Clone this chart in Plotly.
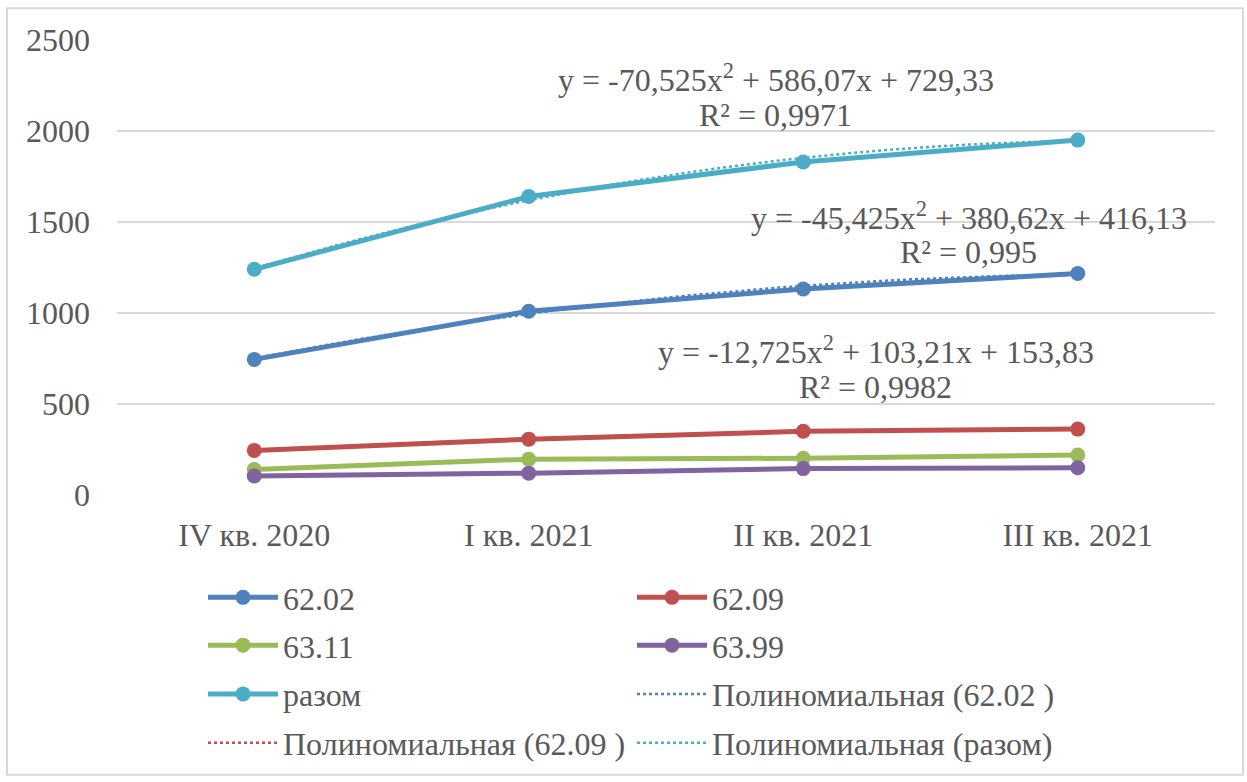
import numpy as np
import plotly.graph_objects as go

categories = ["IV кв. 2020", "I кв. 2021", "II кв. 2021", "III кв. 2021"]
s_6202 = [745, 1010, 1132, 1217]
s_6209 = [245, 307, 350, 362]
s_6311 = [140, 197, 202, 220]
s_6399 = [105, 120, 145, 150]
s_razom = [1240, 1640, 1830, 1950]

# trendline coefficients (a, b, c) of y = a x^2 + b x + c, as printed on the chart
coef_6202 = [-45.425, 380.62, 416.13]
coef_6209 = [-12.725, 103.21, 153.83]
coef_razom = [-70.525, 586.07, 729.33]

eq_6202 = ["y = -45,425x<sup>2</sup> + 380,62x + 416,13", "R² = 0,995"]
eq_6209 = ["y = -12,725x<sup>2</sup> + 103,21x + 153,83", "R² = 0,9982"]
eq_razom = ["y = -70,525x<sup>2</sup> + 586,07x + 729,33", "R² = 0,9971"]

C_6202 = "#4F81BD"
C_6209 = "#C0504D"
C_6311 = "#9BBB59"
C_6399 = "#8064A2"
C_RAZOM = "#4BACC6"
FONT = "'Liberation Serif', 'Times New Roman', 'DejaVu Serif', serif"
TXT = "#595959"
FS = 32

xi = np.arange(len(categories))
xpos = xi + 1

fig = go.Figure()

def main(name, vals, color, leg, rank):
    fig.add_trace(go.Scatter(
        x=xi, y=vals, name=name, mode="lines+markers",
        line=dict(color=color, width=5),
        marker=dict(color=color, size=15),
        legend=leg, legendrank=rank,
    ))

def trend(name, coef, color, leg, rank):
    a, b, c = coef
    xs = np.linspace(xpos[0], xpos[-1], 31)
    ys = a * xs**2 + b * xs + c
    fig.add_trace(go.Scatter(
        x=xs - 1, y=ys, name=name, mode="lines",
        line=dict(color=color, width=2.5, dash="dot"),
        legend=leg, legendrank=rank,
    ))

trend("Полиномиальная (62.02 )", coef_6202, C_6202, "legend3", 2)
trend("Полиномиальная (62.09 )", coef_6209, C_6209, "legend4", 1)
trend("Полиномиальная (разом)", coef_razom, C_RAZOM, "legend4", 2)
main("62.02", s_6202, C_6202, "legend", 1)
main("62.09", s_6209, C_6209, "legend", 2)
main("63.11", s_6311, C_6311, "legend2", 1)
main("63.99", s_6399, C_6399, "legend2", 2)
main("разом", s_razom, C_RAZOM, "legend3", 1)

def eq_annot(lines, x, ys):
    for txt, y in zip(lines, ys):
        fig.add_annotation(
            x=x, y=y, xref="x", yref="y",
            text=txt, showarrow=False,
            font=dict(family=FONT, size=FS, color=TXT),
            align="center", xanchor="center", yanchor="middle",
        )

eq_annot(eq_razom, 1.90, [2290, 2090])
eq_annot(eq_6202, 2.603, [1535, 1335])
eq_annot(eq_6209, 2.264, [797, 596])

fig.add_shape(type="rect", xref="paper", yref="paper",
              x0=-0.1002, x1=1.0255, y0=-0.615, y1=1.070,
              line=dict(color="#D9D9D9", width=2), fillcolor="rgba(0,0,0,0)",
              layer="below")

def leg(row_y):
    return dict(
        orientation="h", x=(203 - 117) / 1098, xanchor="left",
        y=(497 - row_y) / 457, yanchor="middle",
        entrywidth=344, entrywidthmode="pixels",
        itemwidth=70, bgcolor="rgba(0,0,0,0)",
        font=dict(family=FONT, size=FS, color=TXT),
        traceorder="normal",
    )

fig.update_layout(
    width=1247, height=782,
    margin=dict(l=117, r=32, t=40, b=285),
    paper_bgcolor="white", plot_bgcolor="white",
    font=dict(family=FONT, size=FS, color=TXT),
    showlegend=True,
    legend=leg(600),
    legend2=leg(648),
    legend3=leg(697),
    legend4=leg(746),
    xaxis=dict(
        tickmode="array", tickvals=list(xi), ticktext=categories,
        range=[-0.5, 3.5], showgrid=False, zeroline=False,
        showline=False, ticks="", ticklabelstandoff=18,
        tickfont=dict(family=FONT, size=FS, color=TXT),
    ),
    yaxis=dict(
        range=[0, 2500], dtick=500, showgrid=True, gridcolor="#D9D9D9",
        gridwidth=1.5, zeroline=False, showline=False, ticks="",
        ticklabelstandoff=26,
        tickfont=dict(family=FONT, size=FS, color=TXT),
    ),
)

fig.write_html("out.html", config={"displayModeBar": False},
               post_script="document.body.style.margin='0px';document.body.style.padding='0px';")
